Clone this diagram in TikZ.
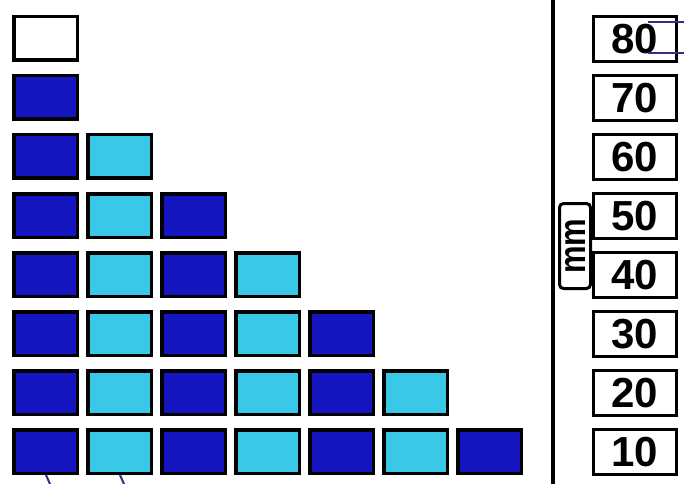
\documentclass[tikz,border=0pt]{standalone}
\usepackage{fontspec}
\setmainfont{Liberation Sans}
\definecolor{darkb}{RGB}{22,22,192}
\definecolor{lightb}{RGB}{58,200,232}
\definecolor{navy}{RGB}{50,50,130}
\tikzset{
  cell/.style={draw=black, line width=3.5pt, minimum width=63.5pt, minimum height=43.5pt, anchor=north west, inner sep=0pt, outer sep=0pt},
  numbox/.style={draw=black, line width=3pt, minimum width=83pt, minimum height=45pt, anchor=north west, inner sep=0pt, outer sep=0pt,
    font=\fontsize{42}{42}\selectfont\bfseries},
  unitbox/.style={draw=black, line width=3pt, rounded corners=4pt, minimum width=31pt, minimum height=85pt, anchor=north west, inner sep=0pt, outer sep=0pt,
    font=\fontsize{31}{31}\selectfont\bfseries},
  thinline/.style={draw=navy, line width=1.3pt}
}
\begin{document}
\begin{tikzpicture}[x=1pt,y=-1pt]
\useasboundingbox (0,0) rectangle (691,484);
% white top cell
\node[cell, fill=white] (c0-0) at (13.75,16.75) {};
% staircase
\foreach \r in {1,...,7}{
  \pgfmathtruncatemacro{\n}{\r-1}
  \foreach \c in {0,...,\n}{
    \pgfmathtruncatemacro{\odd}{mod(\c,2)}
    \ifnum\odd=0
      \node[cell, fill=darkb] (c\r-\c) at (13.75+74*\c, 16.75+59*\r) {};
    \else
      \node[cell, fill=lightb] (c\r-\c) at (13.75+74*\c, 16.75+59*\r) {};
    \fi
  }
}
% vertical rule
\coordinate (vt) at (553,0);
\coordinate (vb) at (553,484);
\draw[line width=4pt] (vt) -- (vb);
% number boxes
\foreach \v [count=\i from 0] in {80,70,60,50,40,30,20,10}{
  \node[numbox] (n\v) at (593.5,16.5+59*\i) {\v};
}
% unit box
\node[unitbox] (mm) at (559.5,203.5) {\rotatebox{90}{\scalebox{1}[1.2]{mm}}};
% lines at 80
\coordinate (la) at (684,22);
\coordinate (lb) at (684,53);
\draw[thinline] (648,22) -- (la);
\draw[thinline] (648,53) -- (lb);
% small ticks at bottom
\coordinate (t1a) at (46,475);
\coordinate (t1b) at (50,484);
\coordinate (t2a) at (120,475);
\coordinate (t2b) at (124,484);
\draw[navy, line width=2pt] (t1a) -- (t1b);
\draw[navy, line width=2pt] (t2a) -- (t2b);
\end{tikzpicture}
\end{document}
